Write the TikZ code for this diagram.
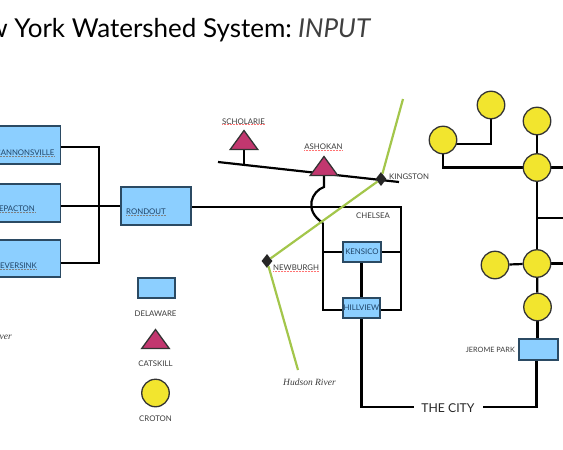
\documentclass[tikz,border=0pt]{standalone}
\usepackage{fontspec}
\setmainfont{Lato}
\newfontfamily\hudsonfont{Liberation Serif}
\usetikzlibrary{shapes.geometric,backgrounds}
\definecolor{boxblue}{HTML}{8CCFFF}
\definecolor{boxedge}{HTML}{2B4A63}
\definecolor{boxtext}{HTML}{1F4468}
\definecolor{trifill}{HTML}{C2376F}
\definecolor{circfill}{HTML}{F2E52E}
\definecolor{rivergreen}{HTML}{A3C64B}
\definecolor{labelgrey}{HTML}{3A3A3A}
\tikzset{
  pipe/.style={line width=2.2pt,draw=black,line join=miter},
  river/.style={line width=2.2pt,draw=rivergreen},
  delaware/.style={draw=boxedge,line width=1.4pt,fill=boxblue,inner sep=0pt},
  catskill/.style={isosceles triangle,isosceles triangle apex angle=72,shape border rotate=90,
    draw=black!80,line width=1.3pt,fill=trifill,inner sep=0pt,minimum height=19pt},
  croton/.style={circle,draw=black!80,line width=1.3pt,fill=circfill,inner sep=0pt,minimum size=27.5pt},
  town/.style={diamond,fill=black!85,inner sep=0pt,minimum width=11pt,minimum height=14pt},
  boxlab/.style={text=boxtext,inner sep=0pt,font=\fontsize{7.8}{9}\selectfont},
  maplab/.style={text=labelgrey,inner sep=0pt,font=\fontsize{7.8}{9}\selectfont}
}
\begin{document}
\begin{tikzpicture}[x=1pt,y=-1pt]
  \useasboundingbox (0,0) rectangle (563,450);
  \clip (0,0) rectangle (563,450);
  % title
  \node[anchor=base east,inner sep=0pt,font=\fontsize{26}{30}\selectfont] (title) at (292,37) {New York Watershed System:};
  \node[anchor=base west,inner sep=0pt,text=black!75,font=\fontsize{26}{30}\selectfont\itshape] (input) at (298,37) {INPUT};
  % delaware boxes
  \node[delaware,minimum width=80.5pt,minimum height=38pt] (cannons) at (20.2,145) {};
  \node[delaware,minimum width=80.5pt,minimum height=38pt] (pepacton) at (20.2,203) {};
  \node[delaware,minimum width=80.5pt,minimum height=37pt] (neversink) at (20.2,258.5) {};
  \node[delaware,minimum width=70pt,minimum height=38pt] (rondout) at (156,206) {};
  \node[delaware,minimum width=38pt,minimum height=20pt] (kensico) at (362,252) {};
  \node[delaware,minimum width=37pt,minimum height=20pt] (hillview) at (361.5,308) {};
  \node[delaware,minimum width=39pt,minimum height=21pt] (jerome) at (538.5,349.5) {};
  % box labels
  \node[boxlab,anchor=east] (cannonslab) at (54.5,153) {CANNONSVILLE};
  \node[boxlab,anchor=east] (pepactonlab) at (35,209) {PEPACTON};
  \node[boxlab,anchor=east] (neversinklab) at (37,266) {NEVERSINK};
  \node[boxlab,anchor=west] (rondoutlab) at (126,212) {RONDOUT};
  \node[boxlab] (kensicolab) at (362,252) {KENSICO};
  \node[boxlab] (hillviewlab) at (361.5,308) {HILLVIEW};
  % croton circles
  \node[croton] (c1) at (491,105) {};
  \node[croton] (c2) at (537,121) {};
  \node[croton] (c3) at (443,140) {};
  \node[croton] (c4) at (537,167.5) {};
  \node[croton] (c5) at (495,265) {};
  \node[croton] (c6) at (537,263.5) {};
  \node[croton] (c7) at (537.5,307) {};
  % catskill triangles
  \node[catskill] (scholarie) at (244,142.5) {};
  \node[catskill] (ashokan) at (324,168.5) {};
  % towns
  \node[town] (kingston) at (381,179) {};
  \node[town] (newburgh) at (267,261) {};
  % free ends
  \coordinate (topbend) at (99,147);
  \coordinate (lowbend) at (99,263);
  \coordinate (mainjoin) at (99,206);
  \coordinate (aqleft) at (218,162);
  \coordinate (aqright) at (399,182);
  \coordinate (scholjoin) at (244,165);
  \coordinate (ashokjoin) at (324,187);
  \coordinate (chelsea) at (401,207);
  \coordinate (west) at (323,223);
  \coordinate (westlow) at (323,310);
  \coordinate (eastlow) at (401,310);
  \coordinate (citya) at (414,407);
  \coordinate (cityb) at (483,407);
  \coordinate (cityturn) at (536.5,407);
  \coordinate (c3bend) at (491,144);
  \coordinate (edgea) at (563,167.5);
  \coordinate (edgeb) at (563,218);
  \coordinate (edgec) at (563,263.5);
  \coordinate (branch) at (537,218);
  \coordinate (riverup) at (403,99);
  \coordinate (riverdown) at (298,370);
  % pipes
  \begin{scope}[on background layer]
    \draw[pipe] (cannons.east |- topbend) -- (topbend) -- (lowbend) -- (neversink.east |- lowbend);
    \draw[pipe] (pepacton.east |- mainjoin) -- (rondout.west |- mainjoin);
    \draw[pipe] (rondout.east |- chelsea) -- (chelsea) -- (eastlow) -- (hillview.east |- eastlow);
    \draw[pipe] (west) -- (westlow) -- (hillview.west |- westlow);
    \draw[pipe] (west |- kensico.west) -- (kensico.west);
    \draw[pipe] (kensico.east) -- (chelsea |- kensico.east);
    \draw[pipe] (hillview.north |- kensico.south) -- (hillview.north);
    \draw[pipe] (aqleft) -- (aqright);
    \draw[pipe] (scholarie.south) -- (scholjoin);
    \draw[pipe] (ashokan.south) -- (ashokjoin) .. controls (312,191) and (303,210) .. (west);
    \draw[pipe] (hillview.south) -- (hillview.south |- citya) -- (citya);
    \draw[pipe] (cityb) -- (cityturn) -- (cityturn |- jerome.south);
    \draw[pipe] (c7.south) -- (c7.south |- jerome.north);
    \draw[pipe] (c7) -- (c6);
    \draw[pipe] (c6) -- (c4);
    \draw[pipe] (c4) -- (c2);
    \draw[pipe] (c5) -- (c6);
    \draw[pipe] (c3) -- (c3 |- c4) -- (c4);
    \draw[pipe] (c3 |- c3bend) -- (c3bend) -- (c1);
    \draw[pipe] (c4) -- (edgea);
    \draw[pipe] (branch) -- (edgeb);
    \draw[pipe] (c6) -- (edgec);
  \end{scope}
  % hudson river
  \draw[river] (riverup) -- (kingston) -- (newburgh) -- (riverdown);
  % map labels
  \node[maplab] (scholarielab) at (243.5,121.5) {SCHOLARIE};
  \node[maplab] (ashokanlab) at (323.5,147) {ASHOKAN};
  \node[maplab,anchor=west] (kingstonlab) at (389,177) {KINGSTON};
  \node[maplab,anchor=west] (chelsealab) at (356,216) {CHELSEA};
  \node[maplab,anchor=west] (newburghlab) at (273,268) {NEWBURGH};
  \node[maplab,anchor=east,font=\fontsize{7.3}{9}\selectfont] (jeromelab) at (515,350) {JEROME PARK};
  \node[inner sep=0pt,text=labelgrey,font=\fontsize{9.5}{11}\hudsonfont\itshape] (hudsonlab) at (309.5,382) {Hudson River};
  \node[inner sep=0pt,anchor=east,text=labelgrey,font=\fontsize{9.5}{11}\hudsonfont\itshape] (otherlab) at (12,336) {River};
  \node[inner sep=0pt,font=\fontsize{12.2}{15}\selectfont,text=black!85] (city) at (448,408) {THE CITY};
  % spelling marks
  \foreach \n in {scholarielab,ashokanlab,newburghlab}
    \draw[red!55,line width=.5pt,densely dotted] (\n.south west) -- (\n.south east);
  \foreach \n in {cannonslab,pepactonlab,neversinklab,rondoutlab}
    \draw[black!50,line width=.5pt,densely dotted] (\n.south west) -- (\n.south east);
  % legend
  \node[delaware,minimum width=37pt,minimum height=20pt] (keybox) at (156.5,288) {};
  \node[maplab] (keyboxlab) at (155.5,314) {DELAWARE};
  \node[catskill] (keytri) at (155.5,341.5) {};
  \node[maplab] (keytrilab) at (155.5,364) {CATSKILL};
  \node[croton] (keycirc) at (155.5,393) {};
  \node[maplab] (keycirclab) at (155.5,419) {CROTON};
\end{tikzpicture}
\end{document}
